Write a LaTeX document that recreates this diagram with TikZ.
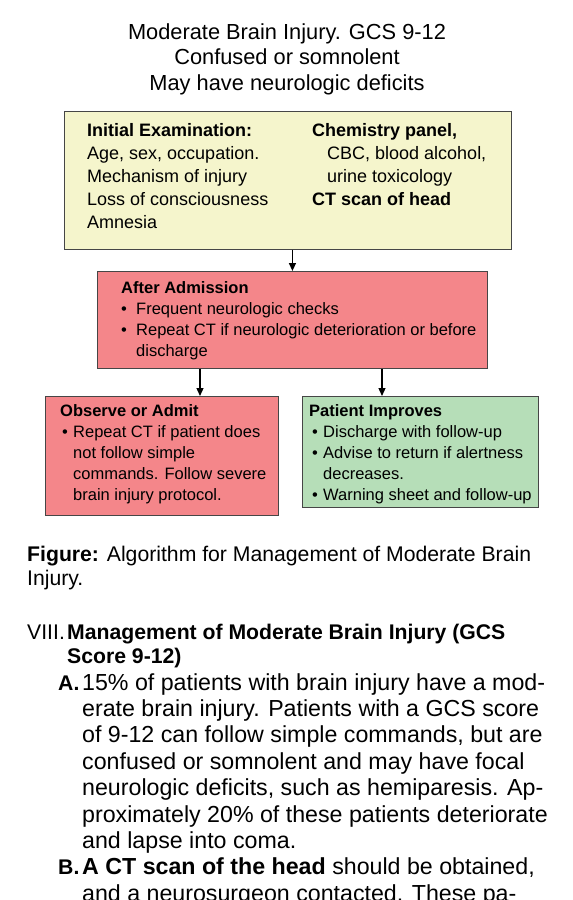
\documentclass[tikz,border=0pt]{standalone}
\usepackage{fontspec}
\setmainfont{Liberation Sans}
\usetikzlibrary{arrows.meta}
\definecolor{boxyellow}{RGB}{245,245,204}
\definecolor{boxred}{RGB}{244,134,138}
\definecolor{boxgreen}{RGB}{182,222,184}
\definecolor{boxline}{RGB}{70,70,70}
\newcommand{\bul}{\makebox[15pt][l]{\textbullet}}
\newcommand{\bulb}{\makebox[11pt][l]{\textbullet}}
\begin{document}
\begin{tikzpicture}[x=1pt,y=-1pt,
  box/.style={draw=boxline,line width=0.9pt,inner sep=0pt,anchor=north west},
  txt/.style={anchor=north west,align=left,inner sep=0pt},
  big/.style={font=\fontsize{18}{23}\selectfont},
  small/.style={font=\fontsize{16.5}{21}\selectfont},
  body/.style={anchor=base west,inner sep=0pt,font=\fontsize{23.2}{26}\selectfont},
  head/.style={anchor=base west,inner sep=0pt,font=\fontsize{21.2}{24}\selectfont},
  arr/.style={line width=1.3pt,-{Triangle[width=7pt,length=8pt]}}]
\clip (0,0) rectangle (573,900);
\fill[white] (0,0) rectangle (573,900);
\node[align=center,inner sep=0pt,font=\fontsize{21.8}{25.5}\selectfont] (title) at (287,59)
  {Moderate Brain Injury. GCS 9-12\\Confused or somnolent\\May have neurologic deficits};
\node[box,fill=boxyellow,minimum width=447pt,minimum height=138pt] (exam) at (64,111) {};
\node[txt,big] (examL) at (87,123) {\textbf{Initial Examination:}\\Age, sex, occupation.\\Mechanism of injury\\Loss of consciousness\\Amnesia};
\node[txt,big] (examR) at (312,123) {\textbf{Chemistry panel,}\\\hspace{15pt}CBC, blood alcohol,\\\hspace{15pt}urine toxicology\\\textbf{CT scan of head}};
\node[box,fill=boxred,minimum width=390pt,minimum height=97pt] (adm) at (97,271) {};
\node[txt,small] (admT) at (121,281) {\textbf{After Admission}\\\bul Frequent neurologic checks\\\bul Repeat CT if neurologic deterioration or before\\\hspace{15pt}discharge};
\node[box,fill=boxred,minimum width=233pt,minimum height=119pt] (obs) at (45,396) {};
\node[txt,small] (obsT) at (60,404) {\textbf{Observe or Admit}\\\hspace{2pt}\bulb Repeat CT if patient does\\\hspace{13pt}not follow simple\\\hspace{13pt}commands. Follow severe\\\hspace{13pt}brain injury protocol.};
\node[box,fill=boxgreen,minimum width=236pt,minimum height=111pt] (imp) at (302,396) {};
\node[txt,small] (impT) at (309,404) {\textbf{Patient Improves}\\\hspace{3pt}\bulb Discharge with follow-up\\\hspace{3pt}\bulb Advise to return if alertness\\\hspace{14pt}decreases.\\\hspace{3pt}\bulb Warning sheet and follow-up};
\draw[arr] (exam.south -| adm.north) -- (adm.north);
\draw[arr] ([xshift=103pt]adm.south west) -- ([xshift=103pt]adm.south west |- obs.north);
\draw[arr] ([xshift=285pt]adm.south west) -- ([xshift=285pt]adm.south west |- imp.north);
\node[head] (cap1) at (27,561) {\textbf{Figure:} Algorithm for Management of Moderate Brain};
\node[head] (cap2) at (27,585) {Injury.};
\node[head] (sec) at (27,639) {VIII.};
\node[head] (sec1) at (67,639) {\textbf{Management of Moderate Brain Injury (GCS}};
\node[head] (sec2) at (67,663) {\textbf{Score 9-12)}};
\node[head] (itA) at (58,690) {\textbf{A.}};
\node[body] (a1) at (82,690) {15\% of patients with brain injury have a mod-};
\node[body] (a2) at (82,716.4) {erate brain injury. Patients with a GCS score};
\node[body] (a3) at (82,742.8) {of 9-12 can follow simple commands, but are};
\node[body] (a4) at (82,769.2) {confused or somnolent and may have focal};
\node[body] (a5) at (82,795.6) {neurologic deficits, such as hemiparesis. Ap-};
\node[body] (a6) at (82,822) {proximately 20\% of these patients deteriorate};
\node[body] (a7) at (82,848.4) {and lapse into coma.};
\node[head] (itB) at (58,874.8) {\textbf{B.}};
\node[body] (b1) at (82,874.8) {\textbf{A CT scan of the head} should be obtained,};
\node[body] (b2) at (82,901.2) {and a neurosurgeon contacted. These pa-};
\end{tikzpicture}
\end{document}
